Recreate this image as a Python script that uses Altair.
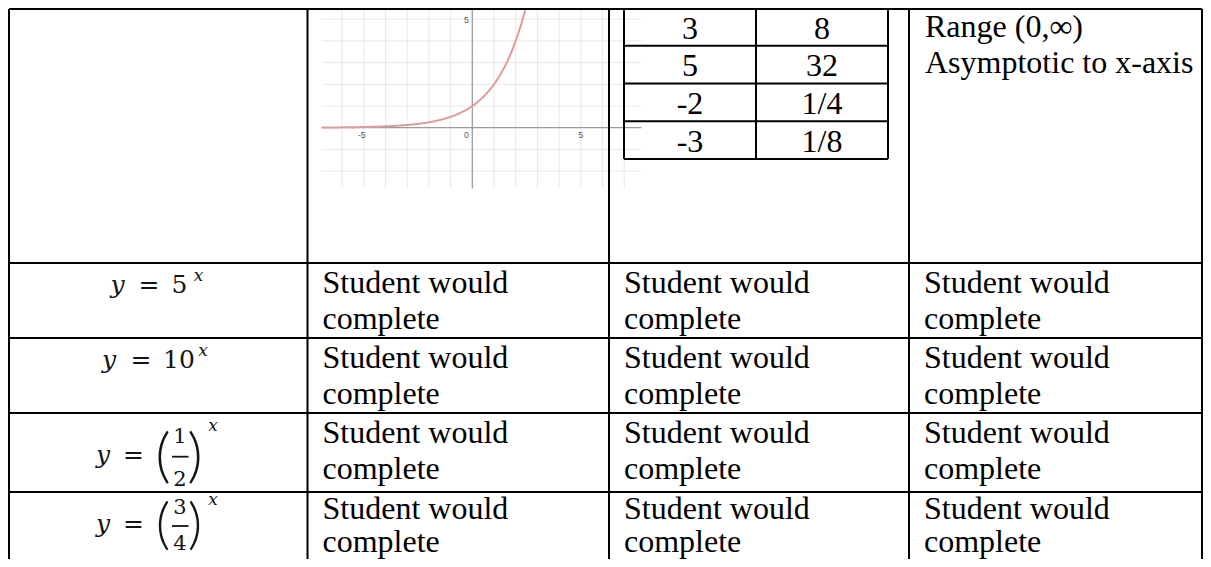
import altair as alt
import numpy as np
import pandas as pd

# ---------------- content ----------------
inner_x_values = ["3", "5", "-2", "-3"]
inner_y_values = ["8", "32", "1/4", "1/8"]
first_row_notes = ["Range (0,\u221e)", "Asymptotic to x-axis"]
placeholder_lines = ["Student would", "complete"]
power_bases = ["5", "10"]                      # y = 5^x , y = 10^x
fraction_num = ["1", "3"]                      # y = (1/2)^x , y = (3/4)^x
fraction_den = ["2", "4"]
graph_base = 2                                 # graphed function y = 2^x (see table)
graph_ticks_x = [-5, 0, 5]
graph_ticks_y = [5]

# ---------------- layout (page pixels) ----------------
W, H = 1195, 551
col_edges = [9, 307.5, 609, 909, 1202]
row_edges = [9, 263, 338, 413, 492]
table_bottom = 559
inner_cols = [624, 756, 888]
inner_top, inner_step = 8, 37.75
text_pad, first_base, line_gap = 16, 29.7, 36.6

# graph frame: origin (px) and pixels per unit
GX0, GY0, GU = 472.3, 127.7, 21.7
g_xmin, g_xmax, g_ymin = -6.94, 7.8, -2.8
g_top_px = 9

xs = alt.Scale(domain=[8, 8 + W], nice=False, zero=False)
ys = alt.Scale(domain=[8, 8 + H], nice=False, zero=False, reverse=True)


def X(f="x"):
    return alt.X(f"{f}:Q", scale=xs, axis=None)


def Y(f="y"):
    return alt.Y(f"{f}:Q", scale=ys, axis=None)


def gx(v):
    return GX0 + GU * v


def gy(v):
    return GY0 - GU * v


# ---------- graph ----------
grid = []
for k in range(-6, 8):
    if k != 0:
        grid.append(dict(x=gx(k), x2=gx(k), y=g_top_px, y2=gy(g_ymin)))
for k in range(-2, 6):
    if k != 0:
        grid.append(dict(x=gx(g_xmin), x2=gx(g_xmax), y=gy(k), y2=gy(k)))
grid_df = pd.DataFrame(grid)
axes_df = pd.DataFrame([
    dict(x=gx(g_xmin), x2=gx(g_xmax), y=gy(0), y2=gy(0)),
    dict(x=gx(0), x2=gx(0), y=g_top_px, y2=gy(g_ymin)),
])
t = np.arange(g_xmin, 2.6, 0.02)
cv = pd.DataFrame({"x": gx(t), "y": gy(graph_base ** t), "i": np.arange(len(t))})
cv = cv[cv["y"] >= g_top_px]

glabels = [dict(x=gx(v) - (2 if v < 0 else 0) - (6 if v == 0 else 0), y=gy(0) + 10.5, t=str(v))
           for v in graph_ticks_x]
glabels += [dict(x=gx(0) - 6, y=gy(v) + 3.5, t=str(v)) for v in graph_ticks_y]
glab_df = pd.DataFrame(glabels)

grid_layer = alt.Chart(grid_df).mark_rule(color="#e8e8e8", strokeWidth=1).encode(
    x=X(), x2="x2:Q", y=Y(), y2="y2:Q")
axes_layer = alt.Chart(axes_df).mark_rule(color="#9c9c9c", strokeWidth=1.3).encode(
    x=X(), x2="x2:Q", y=Y(), y2="y2:Q")
curve_layer = alt.Chart(cv).mark_line(color="#e09c9c", strokeWidth=2).encode(
    x=X(), y=Y(), order="i:Q")
glab_layer = alt.Chart(glab_df).mark_text(font="Liberation Sans", fontSize=8.5, color="#555555",
                                          align="center", baseline="alphabetic").encode(
    x=X(), y=Y(), text="t:N")

# ---------- table lines ----------
lines = []
for r in row_edges:
    lines.append(dict(x=col_edges[0], x2=col_edges[-1], y=r, y2=r))
for c in col_edges:
    lines.append(dict(x=c, x2=c, y=row_edges[0], y2=table_bottom))
inner_rows = [inner_top + k * inner_step for k in range(len(inner_x_values) + 1)]
for r in inner_rows:
    lines.append(dict(x=inner_cols[0], x2=inner_cols[-1], y=max(r, 9), y2=max(r, 9)))
for c in inner_cols:
    lines.append(dict(x=c, x2=c, y=9, y2=inner_rows[-1]))
lines_df = pd.DataFrame(lines)
line_layer = alt.Chart(lines_df).mark_rule(color="#000000", strokeWidth=2).encode(
    x=X(), x2="x2:Q", y=Y(), y2="y2:Q")

# ---------- cell text ----------
cells = []
for j, s in enumerate(first_row_notes):
    cells.append(dict(x=col_edges[3] + text_pad, y=row_edges[0] - 2 + first_base + j * line_gap, t=s))
for ri in range(1, 5):
    top = row_edges[ri]
    last = ri == 4
    for ci in (1, 2, 3):
        for j, s in enumerate(placeholder_lines):
            if last:
                yb = top + 26.5 + j * 33.5
            else:
                yb = top + first_base + j * line_gap
            cells.append(dict(x=col_edges[ci] + text_pad - 1, y=yb, t=s))
cells_df = pd.DataFrame(cells)
cell_layer = alt.Chart(cells_df).mark_text(font="Liberation Serif", fontSize=32, color="#000000",
                                           align="left", baseline="alphabetic").encode(
    x=X(), y=Y(), text="t:N")

inner = []
for k, (a, b) in enumerate(zip(inner_x_values, inner_y_values)):
    base = inner_top + k * inner_step + 30.5
    inner.append(dict(x=(inner_cols[0] + inner_cols[1]) / 2, y=base, t=a))
    inner.append(dict(x=(inner_cols[1] + inner_cols[2]) / 2, y=base, t=b))
inner_df = pd.DataFrame(inner)
inner_layer = alt.Chart(inner_df).mark_text(font="Liberation Serif", fontSize=32, color="#000000",
                                            align="center", baseline="alphabetic").encode(
    x=X(), y=Y(), text="t:N")

# ---------- formulas ----------
ink = "#141414"
upright, italic, sup, parens, bars, fracd = [], [], [], [], [], []
pow_layout = [dict(yx=117.5, eq=149, bx=179.5, sx=198.5), dict(yx=109, eq=141, bx=179, sx=203)]
for k, b in enumerate(power_bases):
    base = row_edges[1 + k] + 29.5
    L = pow_layout[k]
    italic.append(dict(x=L["yx"], y=base, t="y"))
    upright.append(dict(x=L["eq"], y=base, t="="))
    upright.append(dict(x=L["bx"], y=base, t=b))
    sup.append(dict(x=L["sx"], y=base - 12, t="x"))

# vertical offsets (from the row top) of the parts of the two fraction formulas
frac_layout = [
    dict(main=50, num=30, bar=43.7, den=73, par=63, par_size=60, sup=18),
    dict(main=40, num=22, bar=34, den=58, par=51, par_size=56, sup=13),
]
for k, (n, d) in enumerate(zip(fraction_num, fraction_den)):
    top = row_edges[3 + k]
    L = frac_layout[k]
    italic.append(dict(x=103, y=top + L["main"], t="y"))
    upright.append(dict(x=133.5, y=top + L["main"], t="="))
    fracd.append(dict(x=180, y=top + L["num"], t=n))
    fracd.append(dict(x=180, y=top + L["den"], t=d))
    bars.append(dict(x=172, x2=188.5, y=top + L["bar"], y2=top + L["bar"]))
    parens.append(dict(x=163, y=top + L["par"], t="(", s=L["par_size"]))
    parens.append(dict(x=195, y=top + L["par"], t=")", s=L["par_size"]))
    sup.append(dict(x=213, y=top + L["sup"], t="x"))

up_layer = alt.Chart(pd.DataFrame(upright)).mark_text(font="DejaVu Serif", fontSize=25,
                                                      color=ink, align="center", baseline="alphabetic").encode(
    x=X(), y=Y(), text="t:N")
fr_layer = alt.Chart(pd.DataFrame(fracd)).mark_text(font="DejaVu Serif", fontSize=21,
                                                    color=ink, align="center", baseline="alphabetic").encode(
    x=X(), y=Y(), text="t:N")
it_layer = alt.Chart(pd.DataFrame(italic)).mark_text(font="DejaVu Serif", fontStyle="italic", fontSize=25,
                                                     color=ink, align="center",
                                                     baseline="alphabetic").encode(
    x=X(), y=Y(), text="t:N")
sup_layer = alt.Chart(pd.DataFrame(sup)).mark_text(font="DejaVu Serif", fontStyle="italic", fontSize=17,
                                                   color=ink, align="center", baseline="alphabetic").encode(
    x=X(), y=Y(), text="t:N")
par_layer = alt.Chart(pd.DataFrame(parens)).mark_text(font="Lato", fontWeight=300,
                                                      color=ink, align="center", baseline="alphabetic").encode(
    x=X(), y=Y(), text="t:N", size=alt.Size("s:Q", scale=None, legend=None))
bar_layer = alt.Chart(pd.DataFrame(bars)).mark_rule(color=ink, strokeWidth=1.8).encode(
    x=X(), x2="x2:Q", y=Y(), y2="y2:Q")

chart = alt.layer(
    grid_layer, axes_layer, curve_layer, glab_layer,
    line_layer, cell_layer, inner_layer,
    up_layer, fr_layer, it_layer, sup_layer, par_layer, bar_layer,
).properties(
    width=W, height=H, padding=0, autosize=alt.AutoSizeParams(type="none"),
    background="white",
).configure_view(stroke=None)

chart.save("out.html", embed_options={"renderer": "svg", "actions": False})
